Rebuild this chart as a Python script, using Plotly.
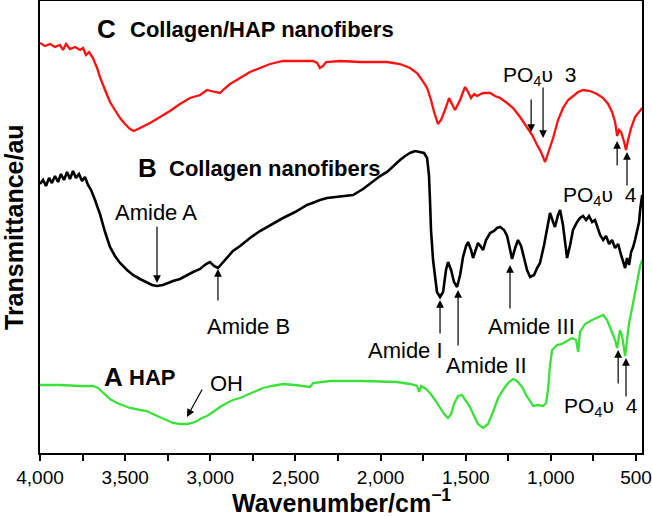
import plotly.graph_objects as go

# ---- data (wavenumber in cm^-1, transmittance in arbitrary units) ----
wn_C = [4000, 3971, 3941, 3912, 3883, 3865, 3847, 3824, 3794, 3765, 3747, 3730, 3712, 3689, 3665,
        3648, 3618, 3589, 3560, 3530, 3501, 3471, 3448, 3413, 3354, 3295, 3237, 3178, 3119, 3060,
        3019, 2972, 2943, 2919, 2884, 2825, 2767, 2708, 2649, 2573, 2473, 2397, 2373, 2356, 2338,
        2320, 2238, 2121, 1962, 1886, 1827, 1786, 1757, 1727, 1704, 1686, 1663, 1645, 1622, 1598,
        1581, 1563, 1545, 1533, 1516, 1504, 1486, 1469, 1451, 1434, 1398, 1357, 1328, 1298, 1257,
        1222, 1181, 1140, 1110, 1081, 1058, 1034, 1011, 987, 958, 929, 899, 870, 840, 811,
        770, 729, 693, 664, 641, 623, 611, 600, 588, 570, 559, 547, 529, 506, 488, 464]
t_C = [410, 407, 409, 406, 408, 403, 409, 404, 406, 403, 405, 398, 401, 395, 385,
       376, 363, 351, 343, 335, 329, 324, 322, 325, 330, 336, 342, 349, 355, 358,
       363, 361, 360, 364, 369, 375, 381, 385, 389, 392, 392, 392, 390, 385, 387,
       391, 392, 391, 391, 389, 385, 380, 373, 365, 353, 341, 329, 333, 343, 355,
       349, 343, 349, 353, 361, 366, 361, 355, 359, 357, 360, 360, 357, 355, 350,
       345, 336, 326, 318, 308, 301, 291, 303, 315, 333, 345, 353, 357, 361, 363,
       362, 359, 355, 349, 341, 331, 317, 323, 321, 311, 303, 313, 325, 336, 340, 345]

wn_B = [4000, 3982, 3965, 3947, 3930, 3912, 3894, 3877, 3859, 3841, 3824, 3806, 3789, 3771, 3753,
        3736, 3718, 3700, 3677, 3648, 3618, 3589, 3560, 3530, 3489, 3454, 3413, 3372, 3342, 3313,
        3278, 3248, 3219, 3178, 3137, 3101, 3060, 3025, 3002, 2978, 2955, 2925, 2896, 2867, 2825,
        2767, 2708, 2649, 2573, 2502, 2432, 2385, 2356, 2314, 2256, 2162, 2103, 2044, 2003, 1962,
        1927, 1886, 1856, 1827, 1798, 1768, 1745, 1727, 1716, 1710, 1704, 1692, 1680, 1669, 1651,
        1633, 1616, 1604, 1586, 1569, 1551, 1533, 1516, 1498, 1486, 1469, 1457, 1439, 1428, 1410,
        1398, 1381, 1357, 1334, 1316, 1298, 1275, 1257, 1240, 1228, 1210, 1193, 1175, 1157, 1140,
        1122, 1099, 1081, 1064, 1040, 1017, 1005, 987, 976, 958, 946, 929, 911, 905, 887,
        870, 846, 829, 811, 793, 776, 758, 741, 729, 711, 693, 676, 658, 641, 623,
        605, 588, 576, 564, 553, 541, 529, 517, 506, 494, 482, 476, 470, 464]
t_B = [269, 273, 267, 275, 270, 277, 271, 279, 273, 281, 274, 282, 275, 279, 272,
       276, 268, 263, 253, 239, 221, 206, 197, 190, 183, 178, 174, 171, 168, 167,
       168, 170, 172, 174, 178, 181, 184, 189, 191, 187, 185, 191, 196, 202, 207,
       215, 222, 228, 235, 241, 248, 251, 253, 255, 256, 258, 264, 272, 277, 281,
       287, 293, 297, 300, 302, 301, 300, 295, 278, 253, 223, 193, 173, 161, 156,
       161, 183, 191, 183, 171, 166, 178, 196, 207, 211, 203, 195, 205, 210, 206,
       203, 213, 220, 222, 225, 226, 223, 217, 205, 194, 205, 213, 207, 193, 183,
       176, 178, 185, 190, 208, 231, 240, 231, 226, 238, 243, 228, 203, 195, 208,
       223, 231, 235, 237, 233, 237, 231, 233, 227, 218, 213, 217, 209, 213, 205,
       209, 198, 191, 185, 195, 188, 201, 206, 213, 223, 231, 243, 253, 258]

wn_A = [4000, 3883, 3765, 3689, 3659, 3630, 3589, 3548, 3507, 3471, 3413, 3372, 3337, 3295, 3254,
        3219, 3178, 3137, 3107, 3078, 3049, 3019, 2984, 2943, 2902, 2867, 2825, 2784, 2737, 2690,
        2638, 2573, 2502, 2444, 2414, 2397, 2356, 2297, 2103, 1903, 1827, 1786, 1774, 1762, 1733,
        1710, 1680, 1651, 1627, 1604, 1586, 1569, 1545, 1522, 1498, 1475, 1451, 1428, 1398, 1369,
        1340, 1310, 1281, 1252, 1222, 1199, 1169, 1146, 1122, 1105, 1075, 1046, 1028, 1017, 1005,
        993, 964, 935, 905, 876, 852, 840, 829, 799, 758, 729, 693, 670, 647, 623,
        611, 594, 582, 564, 553, 541, 523, 506, 488, 476, 464]
t_A = [68, 68, 67, 67, 65, 60, 54, 50, 47, 45, 43, 42, 39, 36, 33,
       30, 29, 29, 30, 32, 35, 37, 41, 46, 50, 53, 55, 58, 62, 65,
       67, 69, 68, 67, 66, 70, 71, 72, 72, 71, 69, 67, 61, 67, 64,
       60, 53, 46, 39, 35, 39, 49, 57, 58, 52, 46, 37, 29, 25, 29,
       41, 55, 63, 70, 74, 72, 66, 58, 52, 47, 48, 47, 50, 63, 88,
       103, 108, 109, 112, 115, 113, 101, 121, 129, 133, 135, 138, 133, 123, 113,
       105, 123, 117, 97, 113, 130, 145, 161, 178, 187, 193]

# ---- figure ----
FONT = "Liberation Sans, Arial, sans-serif"
fig = go.Figure()
fig.add_trace(go.Scatter(x=wn_C, y=t_C, mode="lines", line=dict(color="#ff1010", width=2.3), showlegend=False))
fig.add_trace(go.Scatter(x=wn_B, y=t_B, mode="lines", line=dict(color="#000000", width=2.6), showlegend=False))
fig.add_trace(go.Scatter(x=wn_A, y=t_A, mode="lines", line=dict(color="#3be03b", width=2.3), showlegend=False))

def label(x, y, text, size, bold=False, xanchor="center"):
    fig.add_annotation(x=x, y=y, xref="x", yref="y", text=(f"<b>{text}</b>" if bold else text),
                       showarrow=False, xanchor=xanchor, yanchor="middle",
                       font=dict(family=FONT, size=size, color="black"))

def arrow(x, y_head, y_tail, x_tail=None):
    fig.add_annotation(x=x, y=y_head, ax=(x if x_tail is None else x_tail), ay=y_tail,
                       xref="x", yref="y", axref="x", ayref="y", text="", showarrow=True,
                       arrowhead=2, arrowsize=1.3, arrowwidth=1.2, arrowcolor="black")

# series labels
label(3612, 424, "C", 26, True)
label(3483, 424, "Collagen/HAP nanofibers", 22, True, "left")
label(3366, 285, "B", 26, True)
label(3254, 285, "Collagen nanofibers", 22, True, "left")
label(3571, 76, "A", 26, True)
label(3489, 76, "HAP", 22, True, "left")

# band labels
label(3319, 241, "Amide A", 22)
arrow(3313, 170, 228)
label(2778, 127, "Amide B", 22)
arrow(2955, 184, 151)
label(1851, 103, "Amide I", 22)
arrow(1651, 153, 118)
label(1381, 88, "Amide II", 22)
arrow(1545, 163, 106)
label(1116, 127, "Amide III", 22)
arrow(1240, 188, 143)
label(2902, 70, "OH", 22)
arrow(3137, 36, 65, 3043)
label(1064, 377, "PO<sub>4</sub>υ  3", 21)
arrow(1116, 321, 355)
arrow(1046, 315, 367)
label(711, 257, "PO<sub>4</sub>υ  4", 21)
arrow(611, 312, 286)
arrow(553, 301, 266)
label(705, 46, "PO<sub>4</sub>υ  4", 21)
arrow(605, 103, 68)
arrow(559, 95, 55)

# axis titles
fig.add_annotation(x=0.5, y=0, xref="paper", yref="paper", yshift=-48, xanchor="center", yanchor="middle",
                   text="<b>Wavenumber/cm<sup>−1</sup></b>", showarrow=False,
                   font=dict(family=FONT, size=25, color="black"))
fig.add_annotation(x=0, y=0.5, xref="paper", yref="paper", xshift=-26, xanchor="center", yanchor="middle",
                   text="<b>Transmittance/au</b>", textangle=-90, showarrow=False,
                   font=dict(family=FONT, size=25, color="black"))

fig.update_layout(
    width=652, height=517,
    margin=dict(l=40, r=10, t=1, b=64),
    paper_bgcolor="white", plot_bgcolor="white",
    font=dict(family=FONT, color="black"),
    xaxis=dict(range=[4000, 465], showline=True, linewidth=2, linecolor="black", mirror=True,
               ticks="outside", ticklen=6, tickwidth=2, tickcolor="black",
               dtick=500, tick0=500, tickformat=",d", showgrid=False, zeroline=False,
               tickfont=dict(family=FONT, size=19, color="black"),
               minor=dict(dtick=250, tick0=500, ticks="outside", ticklen=6, tickwidth=2, tickcolor="black"),
               automargin=False),
    yaxis=dict(range=[0, 452], showline=True, linewidth=2, linecolor="black", mirror=True,
               showticklabels=False, ticks="", showgrid=False, zeroline=False,
               automargin=False),
)

fig.write_html("out.html", config={"displayModeBar": False},
               post_script="document.body.style.margin='0';document.body.style.overflow='hidden';")
